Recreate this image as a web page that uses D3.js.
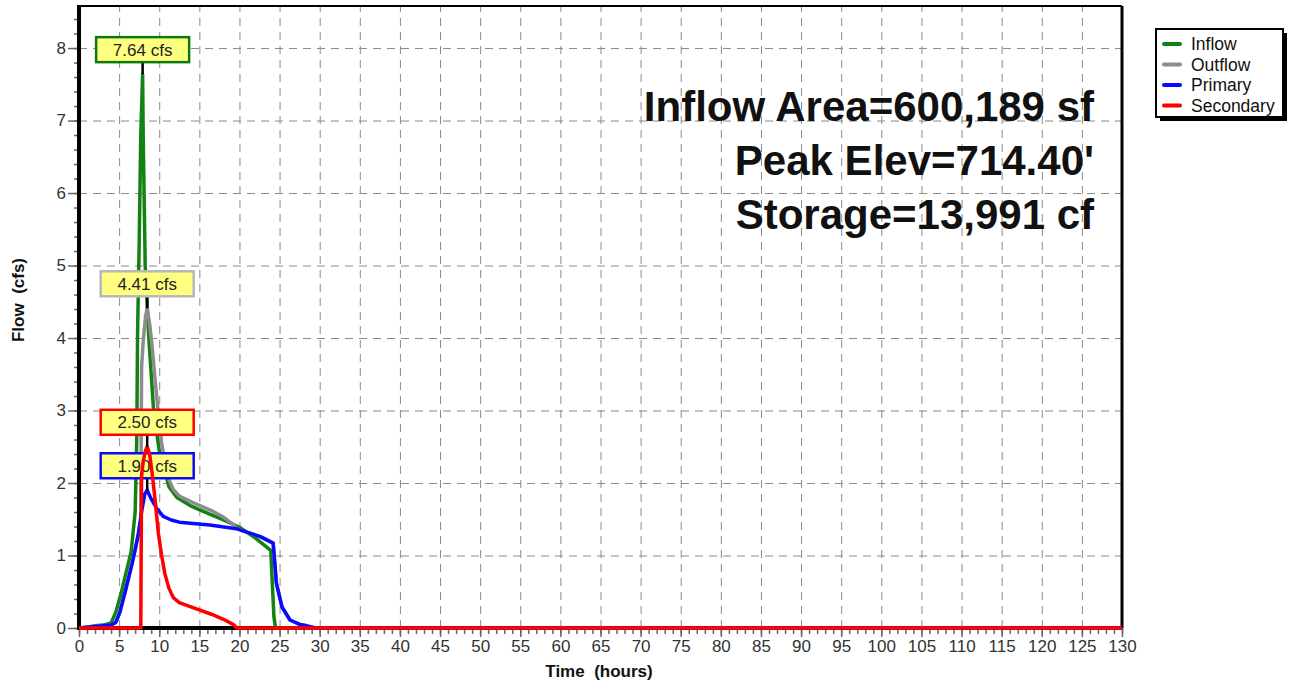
<!DOCTYPE html>
<html>
<head>
<meta charset="utf-8">
<script src="https://cdn.jsdelivr.net/npm/d3@7"></script>
<style>
  body { margin: 0; background: #fff; }
  svg { display: block; font-family: Arial, "Liberation Sans", sans-serif; }
</style>
</head>
<body>
<svg id="chart" width="1296" height="686"></svg>
<script>
// series: [time (hours), flow (cfs)]
var inflow = [[0,0],[1,0.01],[2,0.03],[3,0.04],[4.0,0.07],[4.6,0.22],[5.3,0.5],[5.9,0.78],[6.5,1.05],[7.0,1.6],
  [7.2,2.6],[7.3,4.07],[7.5,5.3],[7.7,6.8],[7.93,7.64],[8.0,6.8],[8.25,5.0],[8.7,4.0],[9.3,3.0],[10.0,2.45],
  [11.2,1.95],[12.2,1.8],[14.0,1.68],[16.3,1.57],[18.0,1.49],[20.0,1.39],[22.0,1.24],[23.9,1.07],[24.1,0.6],
  [24.3,0.15],[24.5,0],[130,0]];
var outflow = [[0,0],[1,0.01],[2,0.02],[3,0.03],[4,0.04],[4.6,0.08],[5.1,0.22],[5.8,0.52],[6.6,0.88],[7.0,1.08],
  [7.4,1.3],[7.7,1.5],[7.8,3.6],[8.0,3.95],[8.3,4.3],[8.5,4.41],[8.8,4.2],[9.1,3.9],[9.5,3.4],[9.9,2.95],
  [10.3,2.55],[10.7,2.3],[11.2,2.05],[11.75,1.91],[12.5,1.82],[14.2,1.73],[16.5,1.62],[18.0,1.53],[19.2,1.43],
  [19.7,1.37],[21.0,1.32],[22.6,1.26],[24.2,1.17],[24.4,0.9],[24.6,0.62],[25.3,0.29],[26.3,0.11],[27.5,0.05],
  [28.4,0.03],[29.5,0],[130,0]];
var primary = [[0,0],[1,0.01],[2,0.02],[3,0.03],[4,0.04],[4.6,0.08],[5.1,0.22],[5.8,0.52],[6.6,0.88],[7.0,1.08],
  [7.4,1.3],[7.8,1.6],[8.2,1.85],[8.5,1.9],[9.0,1.78],[9.68,1.65],[10.5,1.54],[11.5,1.49],[12.5,1.46],
  [16.3,1.42],[19.6,1.37],[21.0,1.32],[22.6,1.26],[24.2,1.17],[24.4,0.9],[24.6,0.62],[25.3,0.29],[26.3,0.11],
  [27.5,0.05],[28.4,0.03],[29.5,0],[130,0]];
var secondary = [[0,0],[7.7,0],[7.8,2.1],[8.0,2.3],[8.3,2.45],[8.5,2.5],[8.8,2.4],[9.1,2.15],[9.5,1.75],
  [9.9,1.3],[10.3,1.0],[10.7,0.75],[11.2,0.55],[11.75,0.42],[12.5,0.35],[14.2,0.28],[16.5,0.19],[18.0,0.12],
  [19.2,0.05],[19.7,0],[130,0]];

var seriesNames = ['Inflow', 'Outflow', 'Primary', 'Secondary'];
var seriesColors = ['#128212', '#8c8c8c', '#0a0aff', '#ff0000'];
var boxColors = ['#0a7a0a', '#b8b8b8', '#0a0aff', '#ff0000'];
var peakLabels = ['7.64 cfs', '4.41 cfs', '1.90 cfs', '2.50 cfs'];
var infoLines = ['Inflow Area=600,189 sf', 'Peak Elev=714.40\'', 'Storage=13,991 cf'];
var xTicks = d3.range(0, 131, 5);
var yTicks = d3.range(0, 9, 1);

function drawChart() {
  var svg = d3.select('#chart');
  var plotLeft = 79, plotRight = 1122, plotTop = 6, plotBottom = 628;

  var x = d3.scaleLinear().domain([0, 130]).range([plotLeft, plotRight]);
  var y = d3.scaleLinear().domain([0, 8.58]).range([plotBottom, plotTop]);

  function styleGrid(g) {
    g.select('.domain').remove();
    g.selectAll('line').attr('stroke', '#8a8a8a').attr('stroke-dasharray', '8,6');
  }
  function styleTicks(g) {
    g.select('.domain').remove();
    g.selectAll('line').attr('stroke', '#666').attr('stroke-width', 1.5);
    g.selectAll('text').attr('font-size', 17).attr('fill', '#333')
      .attr('font-family', 'Arial, "Liberation Sans", sans-serif');
  }

  // grid
  svg.append('g')
    .attr('transform', 'translate(0,' + plotBottom + ')')
    .call(d3.axisBottom(x).tickValues(xTicks.slice(1, -1)).tickSize(-(plotBottom - plotTop)).tickFormat(''))
    .call(styleGrid);
  svg.append('g')
    .attr('transform', 'translate(' + plotLeft + ',0)')
    .call(d3.axisLeft(y).tickValues(yTicks.slice(1)).tickSize(-(plotRight - plotLeft)).tickFormat(''))
    .call(styleGrid);

  // minor ticks
  svg.append('g')
    .attr('transform', 'translate(0,' + plotBottom + ')')
    .call(d3.axisBottom(x).tickValues(d3.range(0, 131, 1)).tickSize(6).tickFormat(''))
    .call(styleTicks);
  svg.append('g')
    .attr('transform', 'translate(' + plotLeft + ',0)')
    .call(d3.axisLeft(y).tickValues(d3.range(0, 8.5, 0.2)).tickSize(5).tickFormat(''))
    .call(styleTicks);

  // major ticks + labels
  svg.append('g')
    .attr('transform', 'translate(0,' + plotBottom + ')')
    .call(d3.axisBottom(x).tickValues(xTicks).tickSize(9).tickPadding(3))
    .call(styleTicks);
  svg.append('g')
    .attr('transform', 'translate(' + plotLeft + ',0)')
    .call(d3.axisLeft(y).tickValues(yTicks).tickSize(11).tickPadding(2))
    .call(styleTicks);

  // frame
  svg.append('line').attr('x1', plotLeft).attr('x2', plotRight).attr('y1', plotTop).attr('y2', plotTop)
    .attr('stroke', '#000').attr('stroke-width', 2);
  svg.append('line').attr('x1', plotRight).attr('x2', plotRight).attr('y1', plotTop).attr('y2', plotBottom)
    .attr('stroke', '#000').attr('stroke-width', 3);
  svg.append('line').attr('x1', plotLeft).attr('x2', plotRight).attr('y1', plotBottom).attr('y2', plotBottom)
    .attr('stroke', '#000').attr('stroke-width', 4);
  svg.append('line').attr('x1', plotLeft).attr('x2', plotLeft).attr('y1', plotTop - 1).attr('y2', plotBottom + 2)
    .attr('stroke', '#000').attr('stroke-width', 4);

  // info text
  svg.append('g').selectAll('text')
    .data(infoLines)
    .enter().append('text')
    .attr('x', 1094)
    .attr('y', function(d, i) { return 121 + i * 54; })
    .attr('text-anchor', 'end')
    .attr('font-size', 42)
    .attr('font-weight', 'bold')
    .attr('fill', '#111')
    .text(function(d) { return d; });

  // lines and peak labels
  var line = d3.line()
    .x(function(d) { return x(d[0]); })
    .y(function(d) { return y(d[1]); });
  var allSeries = [inflow, outflow, primary, secondary];

  allSeries.forEach(function(data, i) {
    svg.append('path')
      .datum(data)
      .attr('fill', 'none')
      .attr('stroke', seriesColors[i])
      .attr('stroke-width', 3.5)
      .attr('stroke-linejoin', 'round')
      .attr('d', line);

    var peak = data.reduce(function(a, b) { return b[1] > a[1] ? b : a; });
    var px = x(peak[0]), py = y(peak[1]);
    var bw = 93, bh = 25;
    svg.append('line')
      .attr('x1', px).attr('x2', px)
      .attr('y1', py - 12).attr('y2', py)
      .attr('stroke', '#000').attr('stroke-width', 2.5);
    svg.append('rect')
      .attr('x', px - bw / 2).attr('y', py - 12 - bh)
      .attr('width', bw).attr('height', bh)
      .attr('fill', '#ffff80')
      .attr('stroke', boxColors[i]).attr('stroke-width', 2.5);
    svg.append('text')
      .attr('x', px).attr('y', py - 12 - bh / 2 + 6)
      .attr('text-anchor', 'middle')
      .attr('font-size', 17)
      .attr('fill', '#222')
      .text(peakLabels[i]);
  });

  // axis titles
  svg.append('text')
    .attr('x', 599).attr('y', 677)
    .attr('text-anchor', 'middle')
    .attr('font-size', 17).attr('font-weight', 'bold')
    .attr('fill', '#111')
    .attr('xml:space', 'preserve')
    .text('Time  (hours)');
  svg.append('text')
    .attr('transform', 'translate(24,300) rotate(-90)')
    .attr('text-anchor', 'middle')
    .attr('font-size', 17).attr('font-weight', 'bold')
    .attr('fill', '#111')
    .attr('xml:space', 'preserve')
    .text('Flow  (cfs)');

  // legend
  var legend = svg.append('g').attr('transform', 'translate(1156,29)');
  legend.append('rect').attr('x', 4).attr('y', 4).attr('width', 127).attr('height', 88).attr('fill', '#000');
  legend.append('rect').attr('x', 0).attr('y', 0).attr('width', 127).attr('height', 88)
    .attr('fill', '#fff').attr('stroke', '#000').attr('stroke-width', 2);
  var items = legend.selectAll('.item')
    .data(seriesNames)
    .enter().append('g')
    .attr('class', 'item')
    .attr('transform', function(d, i) { return 'translate(0,' + (15 + i * 20.5) + ')'; });
  items.append('line')
    .attr('x1', 8).attr('x2', 24)
    .attr('stroke', function(d, i) { return seriesColors[i]; })
    .attr('stroke-width', 4).attr('stroke-linecap', 'round');
  items.append('text')
    .attr('x', 35).attr('y', 6)
    .attr('font-size', 17.5).attr('fill', '#111')
    .text(function(d) { return d; });
}

drawChart();
</script>
</body>
</html>
